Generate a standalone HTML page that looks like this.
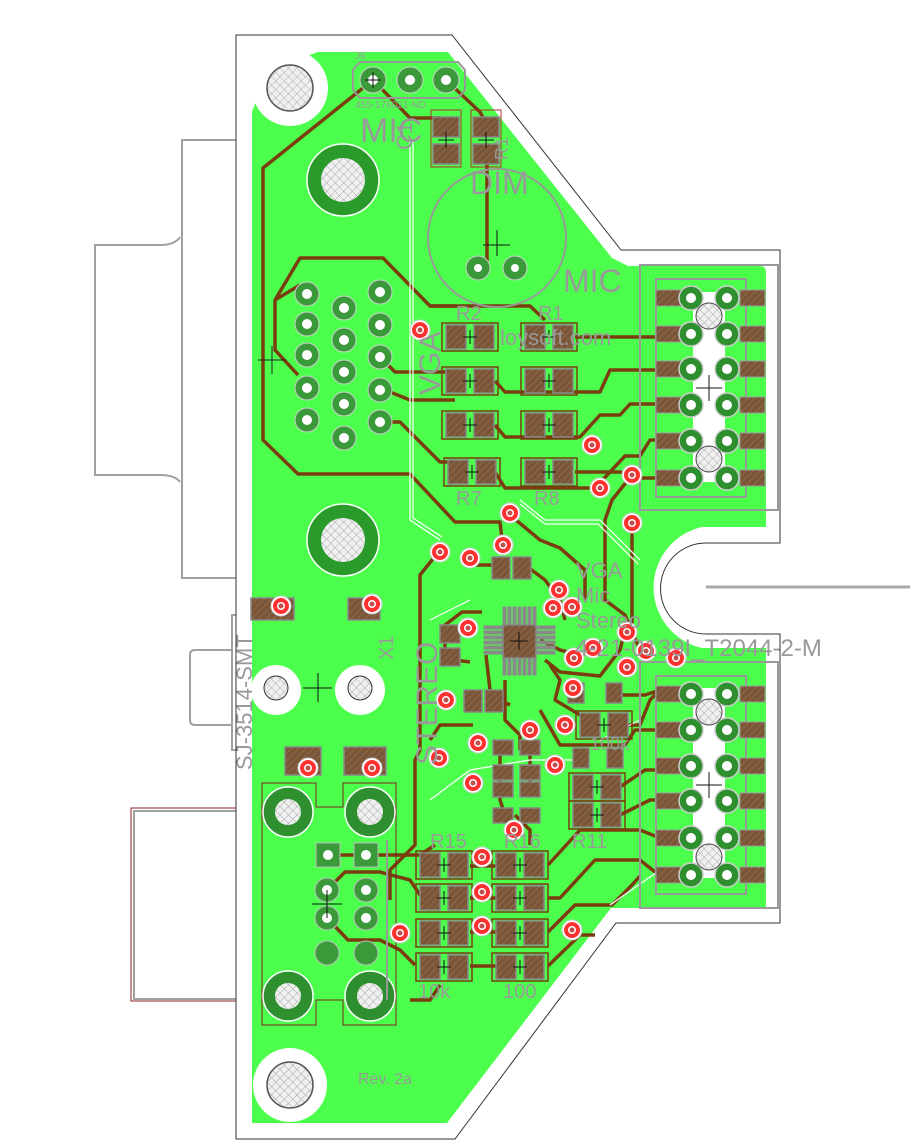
<!DOCTYPE html>
<html><head><meta charset="utf-8"><style>
html,body{margin:0;padding:0;background:#fff;}
svg{display:block;}
text{font-family:"Liberation Sans",sans-serif;fill:#999;}
</style></head><body>
<svg width="911" height="1148" viewBox="0 0 911 1148" xmlns="http://www.w3.org/2000/svg">
<defs>
<pattern id="h" width="5" height="5" patternUnits="userSpaceOnUse" patternTransform="rotate(45)">
<rect width="5" height="5" fill="#7b5538"/><line x1="0" y1="0" x2="0" y2="5" stroke="#8c6a4c" stroke-width="2"/>
</pattern>
<pattern id="x" width="6" height="6" patternUnits="userSpaceOnUse" patternTransform="rotate(45)">
<rect width="6" height="6" fill="#f0f0f0"/><path d="M0 0V6M0 0H6" stroke="#aaa" stroke-width="1"/>
</pattern>
<g id="r"><rect x="-28" y="-14" width="56" height="28" fill="none" stroke="#7a3d10" stroke-width="1.5"/><rect x="-24" y="-12" width="20" height="24" fill="url(#h)" stroke="#888" stroke-width="1.5"/><rect x="4" y="-12" width="20" height="24" fill="url(#h)" stroke="#888" stroke-width="1.5"/><path d="M-7 0H7M0 -7V7" stroke="#111" stroke-width="1"/></g>
<g id="v"><circle r="10" fill="#fff" stroke="#ccc"/><circle r="6" fill="none" stroke="#ff3030" stroke-width="4"/><circle r="2.5" fill="#c05050"/></g>
</defs>

<g fill="none" stroke="#a0a0a0" stroke-width="2">
<path d="M410 140 H182 V578 H410"/>
<path d="M180 237 Q175 245 160 245 H95 V475 H160 Q175 475 180 482"/>
<path d="M405 140 V578 M410 140 V578"/>
<rect x="232" y="615" width="171" height="135"/>
<path d="M232 650 H195 Q190 650 190 655 V720 Q190 725 195 725 H232"/>
<rect x="134" y="811" width="130" height="188"/>
</g>
<path d="M131 808 H262 V1001 H131 Z" fill="none" stroke="#8a2020" stroke-width="1"/>

<path d="M252 112 L268 70 L318 52 H448 L612 258 L628 266 H760 Q766 266 766 272 V527 H702 A62 62 0 0 0 702 648 H766 V908 H611 L447 1123 H252 Z" fill="#4dff4d"/>
<circle cx="290" cy="88" r="38" fill="#fff"/>
<circle cx="290" cy="1085" r="37" fill="#fff"/>
<rect x="236" y="36" width="16" height="1103" fill="#fff"/>

<path d="M236 35 H452 L621 250 H780 V543 H706 A45 45 0 0 0 706 634 H780 V923 H616 L455 1139 H236 Z" fill="none" stroke="#333" stroke-width="1"/>
<path d="M706 587 H910" stroke="#a8a8a8" stroke-width="3"/>

<g fill="#fff">
<circle cx="276" cy="690" r="25"/><circle cx="360" cy="690" r="25"/>
<rect x="693" y="292" width="32" height="190"/>
<rect x="693" y="688" width="32" height="190"/>
</g>

<circle cx="290" cy="88" r="23" fill="url(#x)" stroke="#555" stroke-width="1.5"/>
<circle cx="290" cy="1085" r="23" fill="url(#x)" stroke="#555" stroke-width="1.5"/>

<g fill="none" stroke="#7a3d10" stroke-width="3.5" stroke-linejoin="round">
<path d="M373 80 L298 140 L263 168 V440 L298 474 H410 L455 522 H500 L503 548"/>
<path d="M373 80 L410 118 H442"/>
<path d="M446 80 L480 112 L487 125"/>
<path d="M487 145 V268"/>
<path d="M300 285 L275 300 V350 L298 375 M275 300 L300 258 H383 L430 306 H455"/>
<path d="M430 306 H530 L545 320"/>
<path d="M575 337 H655"/>
<path d="M380 357 L395 372 L440 372 H455"/>
<path d="M495 381 L505 392 H600 L610 370 H655"/>
<path d="M380 388 L410 400 H455"/>
<path d="M495 425 L505 437 H580 L600 415 H620 L630 404 H655"/>
<path d="M380 422 H400 L440 462 H455"/>
<path d="M495 472 L505 488 H595 L625 456 H640 L650 440 H655"/>
<path d="M575 472 H620 L640 478 H655"/>
<path d="M632 475 L612 500 L605 520 V600 L625 615 L640 650"/>
<path d="M632 525 V640"/>
<path d="M510 515 L540 540 L560 548 L585 570 V600"/>
<path d="M440 550 L420 575 V750 L415 760 V845 L390 870 L390 900"/>
<path d="M470 565 H495"/>
<path d="M525 565 L545 580 L560 600 L565 620"/>
<path d="M482 612 L462 612 L445 625 V650 L455 660 L470 662"/>
<path d="M486 655 L490 690 L500 700 L510 705"/>
<path d="M540 640 L560 650 L580 655"/>
<path d="M545 660 L560 672 L600 676 L620 650 L625 630"/>
<path d="M550 665 L560 680 L555 700 L580 715 L600 720"/>
<path d="M473 725 H440 L430 740"/>
<path d="M505 680 V720 L520 735 V750"/>
<path d="M540 710 L560 745 H580"/>
<path d="M617 695 H645 L660 690"/>
<path d="M617 725 H640 L650 700 L660 690"/>
<path d="M580 745 H625 L635 730 H660"/>
<path d="M620 787 L645 770 H660"/>
<path d="M620 815 L650 800 H660"/>
<path d="M548 865 L580 830 L640 830 L660 838"/>
<path d="M548 898 L560 898 L595 860 L640 860 L660 876"/>
<path d="M548 932 L575 905 H612 L632 885 L640 876"/>
<path d="M548 966 L580 935 L595 935"/>
<path d="M470 866 H500 M470 898 H500 M470 932 H500 M470 966 H500"/>
<path d="M328 855 H420 L435 845"/>
<path d="M327 890 L345 872 H380 L410 880 L420 895"/>
<path d="M327 918 L348 940 H380 L400 950 L415 965"/>
<path d="M440 985 L430 1000 H410"/>
<path d="M515 815 L530 830 V845"/>
<path d="M500 745 V800 L505 815"/>
<path d="M530 750 V790"/>
</g>

<g fill="none" stroke="#fff" stroke-width="1.2">
<path d="M410 140 V520 L440 540 M413 140 V518 L442 537"/>
<path d="M520 500 L545 520 L600 520 L640 560 M520 504 L545 524 L598 524 L638 564"/>
<path d="M430 620 L470 600 M430 800 L470 770 L530 760 L580 760"/>
<path d="M640 720 L600 740 M660 870 L610 905"/>
</g>

<circle cx="343" cy="180" r="36" fill="#2a9a2a" stroke="#fff" stroke-width="1.5"/>
<circle cx="343" cy="180" r="22" fill="url(#x)"/>
<circle cx="343" cy="540" r="36" fill="#2a9a2a" stroke="#fff" stroke-width="1.5"/>
<circle cx="343" cy="540" r="22" fill="url(#x)"/>
<g fill="#3a9a3a" stroke="#ccc" stroke-width="1">
<circle cx="307" cy="294" r="12"/><circle cx="307" cy="324" r="12"/><circle cx="307" cy="355" r="12"/><circle cx="307" cy="388" r="12"/><circle cx="307" cy="420" r="12"/>
<circle cx="344" cy="308" r="12"/><circle cx="344" cy="340" r="12"/><circle cx="344" cy="372" r="12"/><circle cx="344" cy="404" r="12"/><circle cx="344" cy="438" r="12"/>
<circle cx="380" cy="292" r="12"/><circle cx="380" cy="325" r="12"/><circle cx="380" cy="357" r="12"/><circle cx="380" cy="390" r="12"/><circle cx="380" cy="422" r="12"/>
</g>
<g fill="#fff">
<circle cx="307" cy="294" r="5"/><circle cx="307" cy="324" r="5"/><circle cx="307" cy="355" r="5"/><circle cx="307" cy="388" r="5"/><circle cx="307" cy="420" r="5"/>
<circle cx="344" cy="308" r="5"/><circle cx="344" cy="340" r="5"/><circle cx="344" cy="372" r="5"/><circle cx="344" cy="404" r="5"/><circle cx="344" cy="438" r="5"/>
<circle cx="380" cy="292" r="5"/><circle cx="380" cy="325" r="5"/><circle cx="380" cy="357" r="5"/><circle cx="380" cy="390" r="5"/><circle cx="380" cy="422" r="5"/>
</g>
<path d="M258 360 H286 M272 346 V374" stroke="#222" stroke-width="1"/>

<path d="M360 62 H458 L465 70 V90 L458 98 H360 L353 90 V70 Z" fill="none" stroke="#999" stroke-width="2"/>
<g fill="#3a9a3a" stroke="#ccc"><circle cx="373" cy="80" r="13"/><circle cx="410" cy="80" r="13"/><circle cx="446" cy="80" r="13"/></g>
<g fill="#fff"><circle cx="373" cy="80" r="5"/><circle cx="410" cy="80" r="5"/><circle cx="446" cy="80" r="5"/></g>
<path d="M365 80 H381 M373 72 V88" stroke="#111"/>
<text x="355" y="59" font-size="10">J6</text>
<text x="355" y="108" font-size="10">455-176021-ND</text>

<g stroke="#888" stroke-width="1.5">
<rect x="433" y="117" width="26" height="20" fill="url(#h)"/><rect x="433" y="144" width="26" height="20" fill="url(#h)"/>
<rect x="473" y="117" width="26" height="20" fill="url(#h)"/><rect x="473" y="144" width="26" height="20" fill="url(#h)"/>
</g>
<rect x="431" y="110" width="30" height="57" fill="none" stroke="#b03030"/>
<rect x="471" y="110" width="30" height="57" fill="none" stroke="#b03030"/>
<path d="M438 140 H454 M446 132 V148 M478 140 H494 M486 132 V148" stroke="#111"/>

<circle cx="497" cy="238" r="69" fill="none" stroke="#999" stroke-width="2"/>
<path d="M483 245 H510 M497 230 V256" stroke="#111"/>
<g fill="#3a9a3a" stroke="#ccc"><circle cx="478" cy="268" r="12"/><circle cx="515" cy="268" r="12"/></g>
<circle cx="478" cy="268" r="4" fill="#fff"/><circle cx="515" cy="268" r="4" fill="#fff"/>

<use href="#r" x="470" y="337"/><use href="#r" x="549" y="337"/>
<use href="#r" x="470" y="381"/><use href="#r" x="549" y="381"/>
<use href="#r" x="470" y="425"/><use href="#r" x="549" y="425"/>
<use href="#r" x="472" y="472"/><use href="#r" x="549" y="472"/>
<use href="#r" x="604" y="725"/><use href="#r" x="597" y="787"/><use href="#r" x="597" y="815"/>
<use href="#r" x="444" y="865"/><use href="#r" x="520" y="865"/>
<use href="#r" x="444" y="898"/><use href="#r" x="520" y="898"/>
<use href="#r" x="444" y="933"/><use href="#r" x="520" y="933"/>
<use href="#r" x="444" y="967"/><use href="#r" x="520" y="967"/>

<g stroke="#888" stroke-width="1.5" fill="url(#h)">
<rect x="492" y="557" width="18" height="22"/><rect x="513" y="557" width="18" height="22"/>
<rect x="440" y="625" width="20" height="18"/><rect x="440" y="648" width="20" height="18"/>
<rect x="464" y="690" width="18" height="22"/><rect x="485" y="690" width="18" height="22"/>
<rect x="568" y="683" width="16" height="20"/><rect x="606" y="683" width="16" height="20"/>
<rect x="493" y="740" width="20" height="15"/><rect x="493" y="765" width="20" height="15"/>
<rect x="520" y="740" width="20" height="15"/><rect x="520" y="765" width="20" height="15"/>
<rect x="493" y="782" width="20" height="15"/><rect x="493" y="808" width="20" height="15"/>
<rect x="520" y="782" width="20" height="15"/><rect x="520" y="808" width="20" height="15"/>
<rect x="573" y="748" width="16" height="20"/><rect x="607" y="748" width="16" height="20"/>
</g>

<g stroke="#888" fill="#8a8a8a">
<rect x="503" y="607" width="3" height="18"/><rect x="508" y="607" width="3" height="18"/><rect x="513" y="607" width="3" height="18"/><rect x="518" y="607" width="3" height="18"/><rect x="523" y="607" width="3" height="18"/><rect x="528" y="607" width="3" height="18"/><rect x="533" y="607" width="3" height="18"/>
<rect x="503" y="657" width="3" height="18"/><rect x="508" y="657" width="3" height="18"/><rect x="513" y="657" width="3" height="18"/><rect x="518" y="657" width="3" height="18"/><rect x="523" y="657" width="3" height="18"/><rect x="528" y="657" width="3" height="18"/><rect x="533" y="657" width="3" height="18"/>
<rect x="484" y="626" width="18" height="3"/><rect x="484" y="631" width="18" height="3"/><rect x="484" y="636" width="18" height="3"/><rect x="484" y="641" width="18" height="3"/><rect x="484" y="646" width="18" height="3"/><rect x="484" y="651" width="18" height="3"/>
<rect x="537" y="626" width="18" height="3"/><rect x="537" y="631" width="18" height="3"/><rect x="537" y="636" width="18" height="3"/><rect x="537" y="641" width="18" height="3"/><rect x="537" y="646" width="18" height="3"/><rect x="537" y="651" width="18" height="3"/>
</g>
<rect x="503" y="625" width="33" height="33" fill="url(#h)" stroke="#888" stroke-width="1.5"/>
<path d="M510 641 H528 M519 632 V650" stroke="#111"/>

<g fill="none" stroke="#999" stroke-width="2">
<rect x="640" y="265" width="138" height="245"/><rect x="656" y="279" width="90" height="218"/>
<rect x="640" y="662" width="138" height="246"/><rect x="656" y="676" width="90" height="218"/>
</g>
<g stroke="#999" stroke-width="1" fill="url(#h)">
<rect x="656" y="290" width="25" height="16"/><rect x="740" y="290" width="25" height="16"/>
<rect x="656" y="326" width="25" height="16"/><rect x="740" y="326" width="25" height="16"/>
<rect x="656" y="361" width="25" height="16"/><rect x="740" y="361" width="25" height="16"/>
<rect x="656" y="397" width="25" height="16"/><rect x="740" y="397" width="25" height="16"/>
<rect x="656" y="433" width="25" height="16"/><rect x="740" y="433" width="25" height="16"/>
<rect x="656" y="470" width="25" height="16"/><rect x="740" y="470" width="25" height="16"/>
<rect x="656" y="686" width="25" height="16"/><rect x="740" y="686" width="25" height="16"/>
<rect x="656" y="722" width="25" height="16"/><rect x="740" y="722" width="25" height="16"/>
<rect x="656" y="758" width="25" height="16"/><rect x="740" y="758" width="25" height="16"/>
<rect x="656" y="793" width="25" height="16"/><rect x="740" y="793" width="25" height="16"/>
<rect x="656" y="830" width="25" height="16"/><rect x="740" y="830" width="25" height="16"/>
<rect x="656" y="867" width="25" height="16"/><rect x="740" y="867" width="25" height="16"/>
</g>
<g fill="#2e8f2e" stroke="#ccc" stroke-width="1.5">
<circle cx="691" cy="298" r="12"/><circle cx="727" cy="298" r="12"/>
<circle cx="691" cy="334" r="12"/><circle cx="727" cy="334" r="12"/>
<circle cx="691" cy="369" r="12"/><circle cx="727" cy="369" r="12"/>
<circle cx="691" cy="405" r="12"/><circle cx="727" cy="405" r="12"/>
<circle cx="691" cy="441" r="12"/><circle cx="727" cy="441" r="12"/>
<circle cx="691" cy="478" r="12"/><circle cx="727" cy="478" r="12"/>
<circle cx="691" cy="694" r="12"/><circle cx="727" cy="694" r="12"/>
<circle cx="691" cy="730" r="12"/><circle cx="727" cy="730" r="12"/>
<circle cx="691" cy="766" r="12"/><circle cx="727" cy="766" r="12"/>
<circle cx="691" cy="801" r="12"/><circle cx="727" cy="801" r="12"/>
<circle cx="691" cy="838" r="12"/><circle cx="727" cy="838" r="12"/>
<circle cx="691" cy="875" r="12"/><circle cx="727" cy="875" r="12"/>
</g>
<g fill="#fff">
<circle cx="691" cy="298" r="5"/><circle cx="727" cy="298" r="5"/><circle cx="691" cy="334" r="5"/><circle cx="727" cy="334" r="5"/><circle cx="691" cy="369" r="5"/><circle cx="727" cy="369" r="5"/><circle cx="691" cy="405" r="5"/><circle cx="727" cy="405" r="5"/><circle cx="691" cy="441" r="5"/><circle cx="727" cy="441" r="5"/><circle cx="691" cy="478" r="5"/><circle cx="727" cy="478" r="5"/>
<circle cx="691" cy="694" r="5"/><circle cx="727" cy="694" r="5"/><circle cx="691" cy="730" r="5"/><circle cx="727" cy="730" r="5"/><circle cx="691" cy="766" r="5"/><circle cx="727" cy="766" r="5"/><circle cx="691" cy="801" r="5"/><circle cx="727" cy="801" r="5"/><circle cx="691" cy="838" r="5"/><circle cx="727" cy="838" r="5"/><circle cx="691" cy="875" r="5"/><circle cx="727" cy="875" r="5"/>
</g>
<g fill="url(#x)" stroke="#444"><circle cx="709" cy="316" r="13"/><circle cx="709" cy="459" r="13"/><circle cx="709" cy="712" r="13"/><circle cx="709" cy="857" r="13"/></g>
<path d="M696 388 H722 M709 375 V401 M696 785 H722 M709 772 V798" stroke="#111"/>

<g stroke="#888" stroke-width="1.5" fill="url(#h)">
<rect x="251" y="598" width="43" height="22"/><rect x="348" y="598" width="32" height="22"/>
<rect x="285" y="747" width="36" height="28"/><rect x="344" y="747" width="42" height="28"/>
</g>
<circle cx="276" cy="688" r="12" fill="url(#x)" stroke="#333"/><circle cx="360" cy="688" r="12" fill="url(#x)" stroke="#333"/>
<path d="M303 688 H332 M318 673 V702" stroke="#111"/>

<path d="M262 783 H316 V807 H343 V783 H396 V1025 H343 V1000 H316 V1025 H262 Z" fill="none" stroke="#7a2020" stroke-width="1"/>
<g fill="#2e8f2e" stroke="#fff" stroke-width="1.5">
<circle cx="288" cy="812" r="25"/><circle cx="370" cy="812" r="25"/><circle cx="288" cy="996" r="25"/><circle cx="370" cy="996" r="25"/>
</g>
<g fill="url(#x)"><circle cx="288" cy="812" r="13"/><circle cx="370" cy="812" r="13"/><circle cx="288" cy="996" r="13"/><circle cx="370" cy="996" r="13"/></g>
<g fill="#3a9a3a" stroke="#bbb">
<rect x="316" y="843" width="24" height="24"/><rect x="354" y="843" width="24" height="24"/>
<circle cx="327" cy="890" r="12"/><circle cx="366" cy="890" r="12"/><circle cx="327" cy="918" r="12"/><circle cx="366" cy="918" r="12"/><circle cx="327" cy="953" r="12"/><circle cx="366" cy="953" r="12"/>
</g>
<g fill="#fff"><circle cx="328" cy="855" r="5"/><circle cx="366" cy="855" r="5"/><circle cx="327" cy="890" r="5"/><circle cx="366" cy="890" r="5"/><circle cx="327" cy="918" r="5"/><circle cx="366" cy="918" r="5"/></g>
<path d="M312 904 H342 M327 890 V918" stroke="#111"/>
<path d="M387 840 V1000" stroke="#999" stroke-width="2"/>

<use href="#v" x="420" y="330"/><use href="#v" x="592" y="445"/><use href="#v" x="632" y="475"/><use href="#v" x="600" y="488"/>
<use href="#v" x="510" y="513"/><use href="#v" x="632" y="523"/><use href="#v" x="440" y="552"/><use href="#v" x="503" y="545"/>
<use href="#v" x="470" y="558"/><use href="#v" x="559" y="590"/><use href="#v" x="572" y="607"/><use href="#v" x="553" y="608"/>
<use href="#v" x="627" y="632"/><use href="#v" x="646" y="651"/><use href="#v" x="676" y="658"/><use href="#v" x="574" y="658"/>
<use href="#v" x="468" y="628"/><use href="#v" x="627" y="667"/><use href="#v" x="593" y="648"/><use href="#v" x="446" y="700"/>
<use href="#v" x="573" y="688"/><use href="#v" x="565" y="725"/><use href="#v" x="530" y="730"/><use href="#v" x="478" y="743"/>
<use href="#v" x="439" y="758"/><use href="#v" x="473" y="783"/><use href="#v" x="555" y="765"/><use href="#v" x="514" y="830"/>
<use href="#v" x="482" y="857"/><use href="#v" x="482" y="892"/><use href="#v" x="482" y="926"/><use href="#v" x="572" y="930"/>
<use href="#v" x="400" y="933"/><use href="#v" x="281" y="606"/><use href="#v" x="372" y="604"/><use href="#v" x="308" y="768"/><use href="#v" x="372" y="768"/>

<g fill="#9a9a9a">
<text x="360" y="142" font-size="34">MIC</text>
<text x="412" y="150" font-size="22" transform="rotate(-90 412 150)">C1</text>
<text x="508" y="160" font-size="18" transform="rotate(-90 508 160)">R1</text>
<text x="470" y="194" font-size="32">DIM</text>
<text x="563" y="292" font-size="32">MIC</text>
<text x="538" y="320" font-size="20">R1</text>
<text x="456" y="320" font-size="20">R2</text>
<text x="440" y="395" font-size="30" transform="rotate(-90 440 395)">VGA</text>
<text x="500" y="345" font-size="22">loysoft.com</text>
<text x="456" y="505" font-size="20">R7</text>
<text x="534" y="505" font-size="20">R8</text>
<text x="576" y="578" font-size="22">VGA</text>
<text x="576" y="603" font-size="22">Mic</text>
<text x="576" y="628" font-size="22">Stereo</text>
<text x="575" y="656" font-size="24">4-21-0139I_T2044-2-M</text>
<text x="437" y="765" font-size="30" transform="rotate(-90 437 765)">STEREO</text>
<text x="252" y="770" font-size="22" transform="rotate(-90 252 770)">SJ-3514-SMT</text>
<text x="393" y="660" font-size="20" transform="rotate(-90 393 660)">X1</text>
<text x="590" y="750" font-size="18">100k</text>
<text x="572" y="848" font-size="20">R11</text>
<text x="430" y="848" font-size="20">R15</text>
<text x="504" y="848" font-size="20">R16</text>
<text x="418" y="998" font-size="20">10k</text>
<text x="503" y="998" font-size="20">100</text>
<text x="358" y="1084" font-size="16" font-family="Liberation Mono">Rev. 2a</text>
</g>
</svg>
</body></html>
